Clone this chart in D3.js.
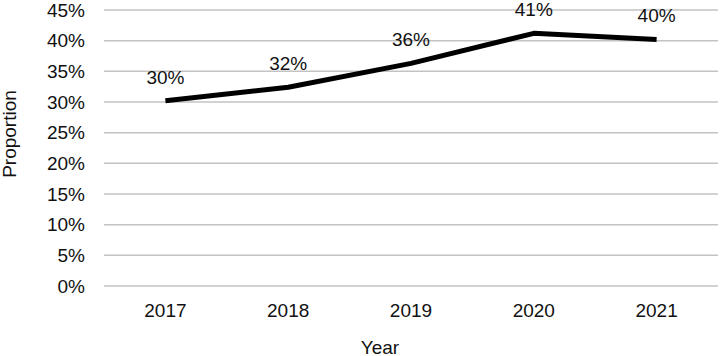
<!DOCTYPE html>
<html>
<head>
<meta charset="utf-8">
<script src="https://cdn.jsdelivr.net/npm/d3@7"></script>
<style>
  body { margin: 0; background: #fff; }
  text { font-family: "Liberation Sans", Arial, sans-serif; fill: #111; }
</style>
</head>
<body>
<div id="chart"></div>
<script>
const years = ["2017", "2018", "2019", "2020", "2021"]
const proportion = [0.302, 0.324, 0.363, 0.412, 0.402]
const labels = ["30%", "32%", "36%", "41%", "40%"]
const yTicks = [0, 0.05, 0.1, 0.15, 0.2, 0.25, 0.3, 0.35, 0.4, 0.45]

let width = 720, height = 356
let margin = {top: 10, right: 2, bottom: 70, left: 104}
let innerWidth = width - margin.left - margin.right
let innerHeight = height - margin.top - margin.bottom

const svg = d3.select("#chart").append("svg")
  .attr("width", width)
  .attr("height", height)

const g = svg.append("g").attr("transform", "translate(" + margin.left + "," + margin.top + ")")

let x = d3.scaleBand().domain(years).range([0, innerWidth])
let y = d3.scaleLinear().domain([0, 0.45]).range([innerHeight, 0])

// gridlines
g.selectAll(".grid")
  .data(yTicks)
  .enter().append("line")
  .attr("x1", 0).attr("x2", innerWidth)
  .attr("y1", d => y(d)).attr("y2", d => y(d))
  .attr("stroke", "#c3c3c3")
  .attr("stroke-width", 1.5)

// y tick labels
g.selectAll(".ylab")
  .data(yTicks)
  .enter().append("text")
  .attr("x", -19)
  .attr("y", d => y(d))
  .attr("dy", "0.35em")
  .attr("text-anchor", "end")
  .style("font-size", "19px")
  .text(d3.format(".0%"))

// x tick labels
g.selectAll(".xlab")
  .data(years)
  .enter().append("text")
  .attr("x", d => x(d) + x.bandwidth() / 2)
  .attr("y", innerHeight + 31)
  .attr("text-anchor", "middle")
  .style("font-size", "19px")
  .text(d => d)

let line = d3.line()
  .x((d, i) => x(years[i]) + x.bandwidth() / 2)
  .y(d => y(d))

g.append("path")
  .datum(proportion)
  .attr("fill", "none")
  .attr("stroke", "#000")
  .attr("stroke-width", 5)
  .attr("stroke-linejoin", "round")
  .attr("d", line)

// data labels
g.selectAll(".dlab")
  .data(proportion)
  .enter().append("text")
  .attr("x", (d, i) => x(years[i]) + x.bandwidth() / 2)
  .attr("y", d => y(d) - 17)
  .attr("text-anchor", "middle")
  .style("font-size", "19px")
  .text((d, i) => labels[i])

// axis titles
svg.append("text")
  .attr("x", 380)
  .attr("y", 354)
  .attr("text-anchor", "middle")
  .style("font-size", "19px")
  .text("Year")

svg.append("text")
  .attr("transform", "translate(16,134) rotate(-90)")
  .attr("text-anchor", "middle")
  .style("font-size", "19px")
  .text("Proportion")
</script>
</body>
</html>
